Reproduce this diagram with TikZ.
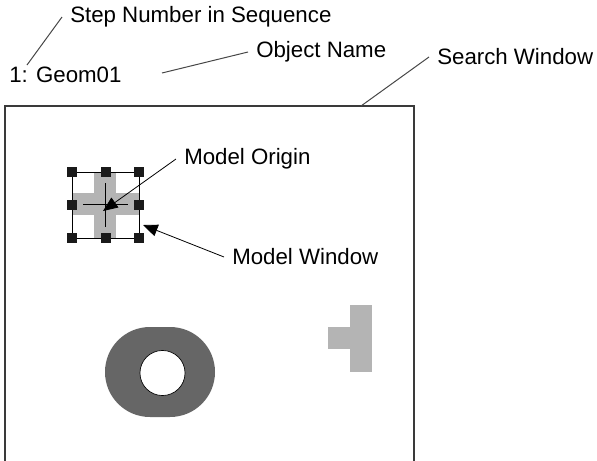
\documentclass[tikz,border=0pt]{standalone}
\usepackage{fontspec}
\setmainfont{Liberation Sans}
\usetikzlibrary{arrows.meta}
\definecolor{swline}{HTML}{3A3A3A}
\definecolor{leadgray}{HTML}{474747}
\definecolor{partlight}{HTML}{B4B4B4}
\definecolor{partdark}{HTML}{666666}
\definecolor{gripink}{HTML}{1A1A1A}
\tikzset{
  lbl/.style={font=\fontsize{16.7}{19}\selectfont,text=black,anchor=west,
              inner xsep=6pt,inner ysep=0pt},
  leader/.style={draw=leadgray,line width=0.75pt},
  pointer/.style={-{Triangle[length=11pt,width=9pt]},draw=black,line width=0.6pt},
  grip/.style={fill=gripink,minimum size=7.5pt,inner sep=0pt},
  mframe/.style={draw=black,line width=0.6pt,minimum width=50.25pt,minimum height=49.5pt,inner sep=0pt},
}

\begin{document}
\begin{tikzpicture}[x=0.75pt,y=-0.75pt]
  \useasboundingbox (0,0) rectangle (597,461);

  % search window (open at the bottom)
  \draw[swline,line width=1.1pt] (5,461) -- (5,106) -- (414,106) -- (414,461);

  % labels on top
  \node[lbl] (stepno) at (62,17) {Step Number in Sequence};
  \node[lbl] (seqname) at (1,75) {1: Geom01};
  \node[lbl] (objname) at (248,52) {Object Name};
  \node[lbl] (swname) at (429,57) {Search Window};
  \coordinate (stepfoot) at (27,65);
  \coordinate (objfoot) at (162,73);
  \coordinate (swfoot) at (361,106);
  \draw[leader] (stepfoot) -- (stepno.west);
  \draw[leader] (objfoot) -- (objname.west);
  \draw[leader] (swfoot) -- (swname.west);

  % model: grey cross, frame and grips
  \fill[partlight] (94,172) rectangle (116,238);
  \fill[partlight] (72,193) rectangle (139,215);
  \node[mframe] (mwin) at (105.5,205) {};
  \coordinate (morig) at (105,204);
  \draw[black,line width=0.6pt] (83,204) -- (128,204);
  \draw[black,line width=0.6pt] (105,183) -- (105,227);
  \node[grip] (gnw) at (mwin.north west) {};
  \node[grip] (gn)  at (mwin.north) {};
  \node[grip] (gne) at (mwin.north east) {};
  \node[grip] (gw)  at (mwin.west) {};
  \node[grip] (ge)  at (mwin.east) {};
  \node[grip] (gsw) at (mwin.south west) {};
  \node[grip] (gs)  at (mwin.south) {};
  \node[grip] (gse) at (mwin.south east) {};

  % pointers into the model
  \node[lbl] (origname) at (176,159) {Model Origin};
  \node[lbl] (winname) at (224,257) {Model Window};
  \coordinate (origtip) at (103,211);
  \coordinate (wintip) at (143,225);
  \draw[pointer] (origname.west) -- (origtip);
  \draw[pointer] (winname.west) -- (wintip);

  % other parts in the search window
  \fill[partdark,rounded corners=33.7pt] (105,327) rectangle (215,417);
  \filldraw[fill=white,draw=black,line width=0.5pt] (162.5,373) circle[radius=16.9pt];
  \fill[partlight] (350,305) rectangle (372,372);
  \fill[partlight] (328,327) rectangle (350,349);
\end{tikzpicture}
\end{document}
